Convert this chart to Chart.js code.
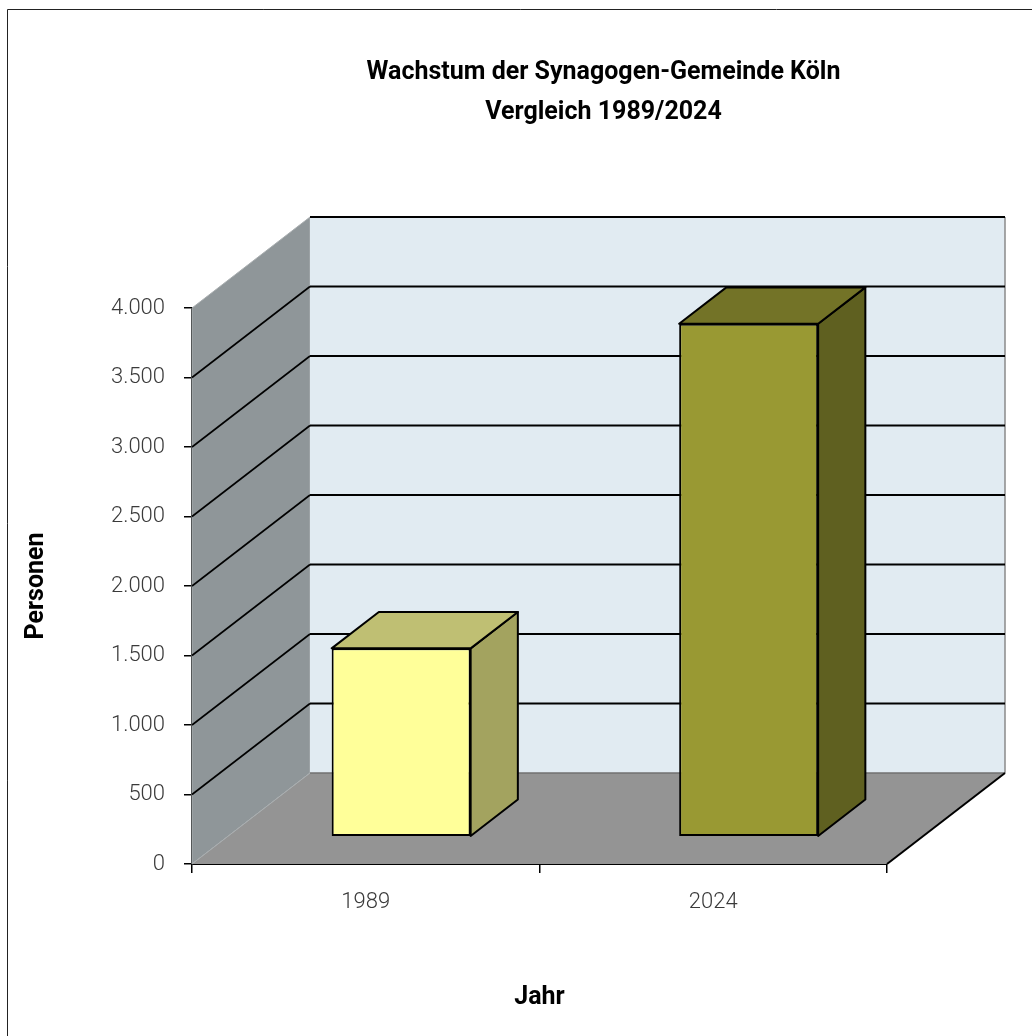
<!DOCTYPE html>
<html>
<head>
<meta charset="utf-8">
<script src="https://cdn.jsdelivr.net/npm/chart.js@4.4.1/dist/chart.umd.min.js"></script>
<style>
  html, body { margin: 0; padding: 0; background: #ffffff; }
  #wrap { width: 1032px; height: 1036px; position: relative; }
</style>
</head>
<body>
<div id="wrap"><canvas id="c" width="1032" height="1036"></canvas></div>
<script>
// ---- data ----
const categories = ['1989', '2024'];
const personen = [1355, 3690];
const titleLines = ['Wachstum der Synagogen-Gemeinde Köln', 'Vergleich 1989/2024'];
const xAxisTitle = 'Jahr';
const yAxisTitle = 'Personen';
const yMin = 0;
const yMax = 4000;
const yStep = 500;

// ---- style ----
const DEPTH_X = 118, DEPTH_Y = -91;      // full depth of the 3D box
const BAR_FRONT = 0.3, BAR_DEPTH = 0.4;  // bar position / thickness in depth
const frontColors = ['#ffff99', '#999933'];
const topColors = ['#bfbf73', '#737327'];
const sideColors = ['#a3a35f', '#5f6020'];
const TICK_FONT = { family: 'Roboto, "Open Sans", sans-serif', size: 22, weight: '300' };
const BOLD_FAMILY = 'Roboto, "Open Sans", sans-serif';

function fmt(v) {
  return String(v).replace(/\B(?=(\d{3})+(?!\d))/g, '.');
}

const threeD = {
  id: 'threeD',
  beforeDatasetsDraw(chart) {
    const ctx = chart.ctx;
    const a = chart.chartArea;
    const y = chart.scales.y;
    const x0 = a.left, x1 = a.right;
    const y0 = y.getPixelForValue(yMin), yT = y.getPixelForValue(yMax);
    ctx.save();
    // side wall
    ctx.beginPath();
    ctx.moveTo(x0, y0); ctx.lineTo(x0, yT);
    ctx.lineTo(x0 + DEPTH_X, yT + DEPTH_Y); ctx.lineTo(x0 + DEPTH_X, y0 + DEPTH_Y);
    ctx.closePath();
    ctx.fillStyle = '#8f9699'; ctx.fill();
    ctx.strokeStyle = '#a9aeb0'; ctx.lineWidth = 1; ctx.stroke();
    // back wall
    ctx.fillStyle = '#e1ebf2';
    ctx.fillRect(x0 + DEPTH_X, yT + DEPTH_Y, x1 - x0, y0 - yT);
    ctx.strokeStyle = '#8a8a8a'; ctx.lineWidth = 1.5;
    ctx.beginPath();
    ctx.moveTo(x1 + DEPTH_X, yT + DEPTH_Y); ctx.lineTo(x1 + DEPTH_X, y0 + DEPTH_Y);
    ctx.stroke();
    // floor
    ctx.beginPath();
    ctx.moveTo(x0, y0); ctx.lineTo(x1, y0);
    ctx.lineTo(x1 + DEPTH_X, y0 + DEPTH_Y); ctx.lineTo(x0 + DEPTH_X, y0 + DEPTH_Y);
    ctx.closePath();
    ctx.fillStyle = '#949494'; ctx.fill();
    ctx.strokeStyle = '#707070'; ctx.lineWidth = 1.5;
    ctx.beginPath();
    ctx.moveTo(x0 + DEPTH_X, y0 + DEPTH_Y); ctx.lineTo(x1 + DEPTH_X, y0 + DEPTH_Y);
    ctx.stroke();
    ctx.strokeStyle = '#a9aeb0'; ctx.lineWidth = 1;
    ctx.beginPath();
    ctx.moveTo(x0, y0); ctx.lineTo(x0 + DEPTH_X, y0 + DEPTH_Y);
    ctx.stroke();
    ctx.strokeStyle = '#000'; ctx.lineWidth = 2;
    ctx.beginPath();
    ctx.moveTo(x1, y0); ctx.lineTo(x1 + DEPTH_X, y0 + DEPTH_Y);
    ctx.stroke();
    // gridlines
    ctx.strokeStyle = '#000';
    y.ticks.forEach(t => {
      const v = t.value;
      if (v <= yMin) return;
      const py = y.getPixelForValue(v);
      if (v < yMax) {
        ctx.lineWidth = 1.6;
        ctx.beginPath();
        ctx.moveTo(x0, py); ctx.lineTo(x0 + DEPTH_X, py + DEPTH_Y);
        ctx.stroke();
      }
      ctx.lineWidth = 2;
      ctx.beginPath();
      ctx.moveTo(x0 + DEPTH_X, py + DEPTH_Y); ctx.lineTo(x1 + DEPTH_X, py + DEPTH_Y);
      ctx.stroke();
    });
    // bar tops and sides
    const ox = DEPTH_X * BAR_FRONT, oy = DEPTH_Y * BAR_FRONT;
    const dx = DEPTH_X * BAR_DEPTH, dy = DEPTH_Y * BAR_DEPTH;
    const meta = chart.getDatasetMeta(0);
    ctx.lineWidth = 2; ctx.lineJoin = 'round'; ctx.strokeStyle = '#000';
    meta.data.forEach((el, i) => {
      const p = el.getProps(['x', 'y', 'base', 'width'], true);
      const L = p.x - p.width / 2 + ox, R = p.x + p.width / 2 + ox;
      const T = Math.min(p.y, p.base) + oy, B = Math.max(p.y, p.base) + oy;
      // side
      ctx.beginPath();
      ctx.moveTo(R, T); ctx.lineTo(R + dx, T + dy); ctx.lineTo(R + dx, B + dy); ctx.lineTo(R, B);
      ctx.closePath();
      ctx.fillStyle = sideColors[i]; ctx.fill(); ctx.stroke();
      // top
      ctx.beginPath();
      ctx.moveTo(L, T); ctx.lineTo(L + dx, T + dy); ctx.lineTo(R + dx, T + dy); ctx.lineTo(R, T);
      ctx.closePath();
      ctx.fillStyle = topColors[i]; ctx.fill(); ctx.stroke();
    });
    ctx.restore();
    ctx.save();
    ctx.translate(ox, oy);
  },
  afterDatasetsDraw(chart) {
    chart.ctx.restore();
  },
  afterDraw(chart) {
    const ctx = chart.ctx;
    const a = chart.chartArea;
    ctx.save();
    // frame
    ctx.strokeStyle = '#222'; ctx.lineWidth = 1;
    ctx.beginPath();
    ctx.moveTo(7.5, chart.height + 5); ctx.lineTo(7.5, 9.5); ctx.lineTo(chart.width + 5, 9.5);
    ctx.stroke();
    // title
    ctx.fillStyle = '#000';
    ctx.font = 'bold 25px ' + BOLD_FAMILY;
    ctx.textAlign = 'center';
    ctx.textBaseline = 'middle';
    const cx = (a.left + a.right + DEPTH_X) / 2 + 5;
    titleLines.forEach((t, i) => ctx.fillText(t, cx, 73 + i * 40));
    ctx.restore();
  }
};

new Chart(document.getElementById('c'), {
  type: 'bar',
  data: {
    labels: categories,
    datasets: [{
      label: yAxisTitle,
      data: personen,
      backgroundColor: frontColors,
      borderColor: '#000',
      borderWidth: 2,
      borderSkipped: false,
      categoryPercentage: 1,
      barPercentage: 0.4,
      clip: false
    }]
  },
  options: {
    responsive: false,
    animation: false,
    layout: { padding: { top: 308, left: 0, right: 145, bottom: 0 } },
    plugins: {
      legend: { display: false },
      title: { display: false },
      tooltip: { enabled: false }
    },
    scales: {
      x: {
        offset: true,
        grid: { offset: true, drawOnChartArea: false, drawTicks: true, tickLength: 9, color: '#000', lineWidth: 1.5 },
        border: { display: true, color: '#000', width: 2 },
        ticks: { color: '#3a3a3a', font: TICK_FONT, padding: 16 },
        title: { display: true, text: xAxisTitle, color: '#000',
                 font: { family: BOLD_FAMILY, size: 25, weight: 'bold' }, padding: { top: 0, bottom: 23 } },
        afterFit(s) { s.height = 172; }
      },
      y: {
        min: yMin, max: yMax,
        grid: { drawOnChartArea: false, drawTicks: true, tickLength: 8, color: '#000', lineWidth: 1.5 },
        border: { display: true, color: '#000', width: 2 },
        ticks: { stepSize: yStep, color: '#3a3a3a', font: TICK_FONT, padding: 19,
                 callback: v => fmt(v) },
        title: { display: true, text: yAxisTitle, color: '#000',
                 font: { family: BOLD_FAMILY, size: 25, weight: 'bold' }, padding: { top: 22, bottom: 0 } },
        afterFit(s) { s.width = 192; }
      }
    }
  },
  plugins: [threeD]
});
</script>
</body>
</html>
